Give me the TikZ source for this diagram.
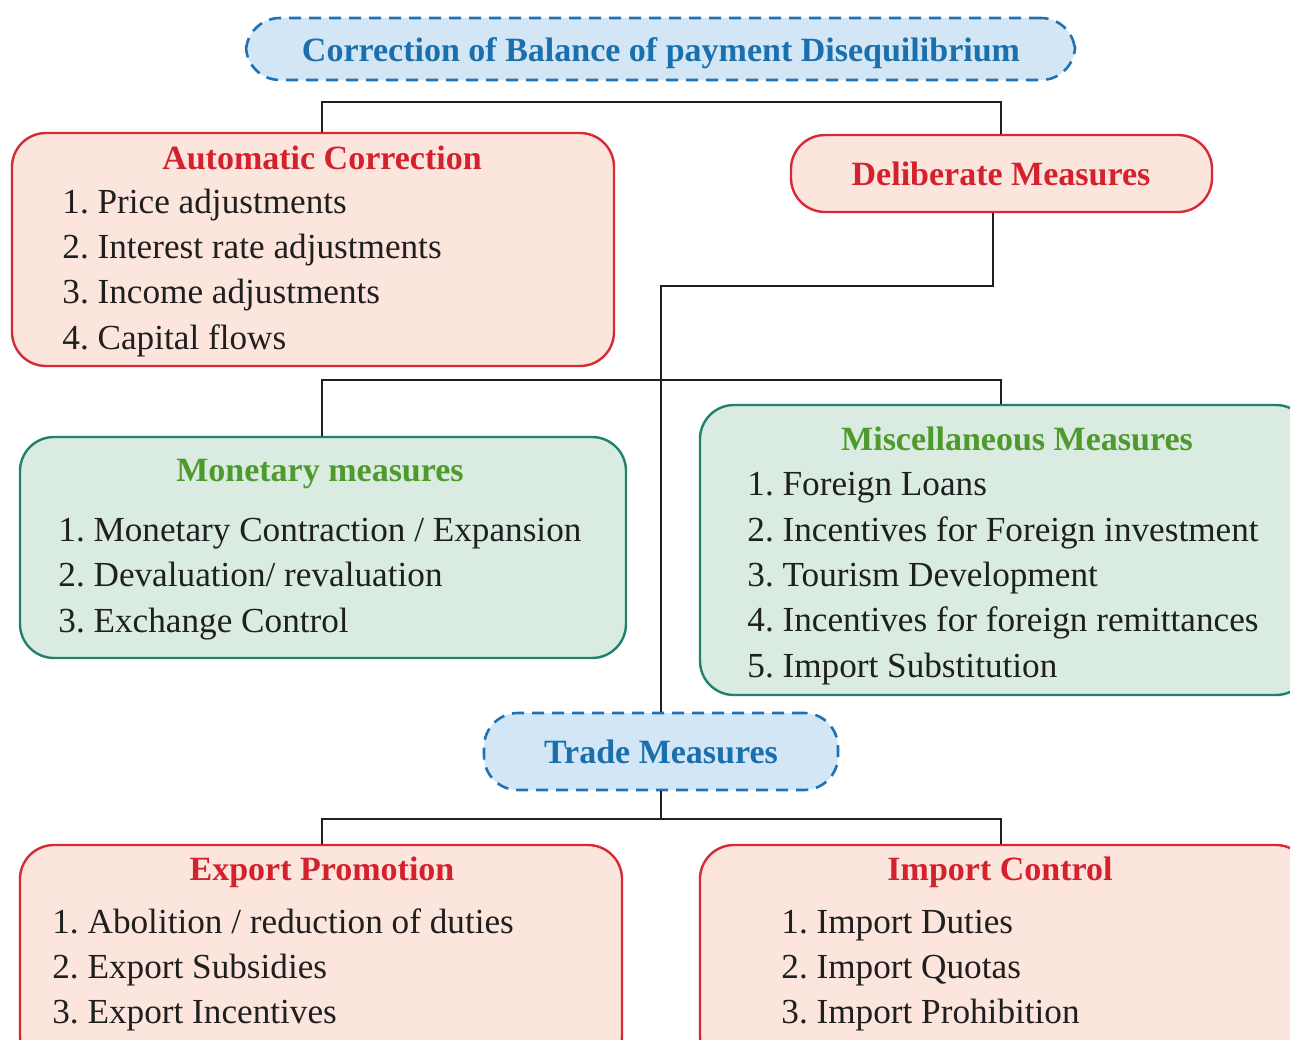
\documentclass[tikz,border=0pt]{standalone}
\usepackage{fontspec}
\setmainfont{Liberation Serif}
\frenchspacing
\definecolor{redtxt}{HTML}{D3222E}
\definecolor{redline}{HTML}{D42B36}
\definecolor{pinkfill}{HTML}{FCE5DC}
\definecolor{bluetxt}{HTML}{1A6FAD}
\definecolor{bluefill}{HTML}{D3E6F5}
\definecolor{blueline}{HTML}{1E72B5}
\definecolor{greentxt}{HTML}{4E9A2C}
\definecolor{tealline}{HTML}{22806F}
\definecolor{greenfill}{HTML}{DAEBE1}
\definecolor{linecol}{HTML}{231F20}
\begin{document}
\begin{tikzpicture}[x=0.5pt,y=-0.5pt,
  redbox/.style={draw=redline,fill=pinkfill,line width=1.2pt,rounded corners=17pt,inner sep=0pt},
  greenbox/.style={draw=tealline,fill=greenfill,line width=1.2pt,rounded corners=17pt,inner sep=0pt},
  bluebox/.style={draw=blueline,fill=bluefill,line width=1.3pt,dash pattern=on 6pt off 4pt,rounded corners=17pt,inner sep=0pt},
  conn/.style={draw=linecol,line width=1.4pt},
  item/.style={anchor=base west,inner sep=0pt,font=\fontsize{17.6}{22}\selectfont\frenchspacing,text=black!88},
  redhead/.style={anchor=base,inner sep=0pt,font=\fontsize{17}{20}\selectfont\bfseries,text=redtxt},
  greenhead/.style={anchor=base,inner sep=0pt,font=\fontsize{17}{20}\selectfont\bfseries,text=greentxt},
  bluehead/.style={anchor=base,inner sep=0pt,font=\fontsize{17}{20}\selectfont\bfseries,text=bluetxt}]
\useasboundingbox (0,0) rectangle (1290,1039);
\clip (0,0) rectangle (1290,1039);
\fill[white] (0,0) rectangle (1290,1039);

% boxes
\node[bluebox,minimum width=414.5pt,minimum height=31pt] (title) at (660.5,49) {};
\node[redbox,minimum width=301pt,minimum height=116.5pt] (auto) at (313,249.5) {};
\node[redbox,minimum width=210.5pt,minimum height=38.5pt] (delib) at (1001.5,173.5) {};
\node[greenbox,minimum width=303pt,minimum height=110.5pt] (mon) at (323,547.5) {};
\node[greenbox,minimum width=305pt,minimum height=145pt] (misc) at (1005,550) {};
\node[bluebox,minimum width=177pt,minimum height=38.5pt] (trade) at (661,751.5) {};
\node[redbox,minimum width=301pt,minimum height=112.5pt] (exp) at (321,957.5) {};
\node[redbox,minimum width=305pt,minimum height=112.5pt] (imp) at (1005,957.5) {};

% connectors
\coordinate (b1) at (322,102);
\coordinate (b1r) at (1001,102);
\draw[conn] (auto.north -| b1) -- (b1) -- (b1r) -- (delib.north -| b1r);
\coordinate (d1) at (993,286);
\coordinate (d2) at (661,286);
\draw[conn] (delib.south -| d1) -- (d1) -- (d2) -- (trade.north -| d2);
\coordinate (b2) at (322,380);
\coordinate (b3) at (1001,380);
\draw[conn] (mon.north -| b2) -- (b2) -- (b3) -- (misc.north -| b3);
\coordinate (b4) at (661,819);
\coordinate (b5) at (322,819);
\coordinate (b6) at (1001,819);
\draw[conn] (trade.south -| b4) -- (b4);
\draw[conn] (exp.north -| b5) -- (b5) -- (b6) -- (imp.north -| b6);

% texts
\node[bluehead] (ttitle) at (661,61) {Correction of Balance of payment Disequilibrium};

\node[redhead] (tauto) at (322,169) {Automatic Correction};
\node[item] (a1) at (62,213) {1. Price adjustments};
\node[item] (a2) at (62,258) {2. Interest rate adjustments};
\node[item] (a3) at (62,303) {3. Income adjustments};
\node[item] (a4) at (62,349) {4. Capital flows};

\node[redhead] (tdelib) at (1001,185) {Deliberate Measures};

\node[greenhead] (tmon) at (320,481) {Monetary measures};
\node[item] (m1) at (58,541) {1. Monetary Contraction / Expansion};
\node[item] (m2) at (58,586) {2. Devaluation/ revaluation};
\node[item] (m3) at (58,632) {3. Exchange Control};

\node[greenhead] (tmisc) at (1017,450) {Miscellaneous Measures};
\node[item] (s1) at (747,495) {1. Foreign Loans};
\node[item] (s2) at (747,541) {2. Incentives for Foreign investment};
\node[item] (s3) at (747,586) {3. Tourism Development};
\node[item] (s4) at (747,631) {4. Incentives for foreign remittances};
\node[item] (s5) at (747,677) {5. Import Substitution};

\node[bluehead] (ttrade) at (661,763) {Trade Measures};

\node[redhead] (texp) at (322,880) {Export Promotion};
\node[item] (e1) at (52,933) {1. Abolition / reduction of duties};
\node[item] (e2) at (52,978) {2. Export Subsidies};
\node[item] (e3) at (52,1023) {3. Export Incentives};

\node[redhead] (timp) at (1000,880) {Import Control};
\node[item] (i1) at (781,933) {1. Import Duties};
\node[item] (i2) at (781,978) {2. Import Quotas};
\node[item] (i3) at (781,1023) {3. Import Prohibition};
\end{tikzpicture}
\end{document}
